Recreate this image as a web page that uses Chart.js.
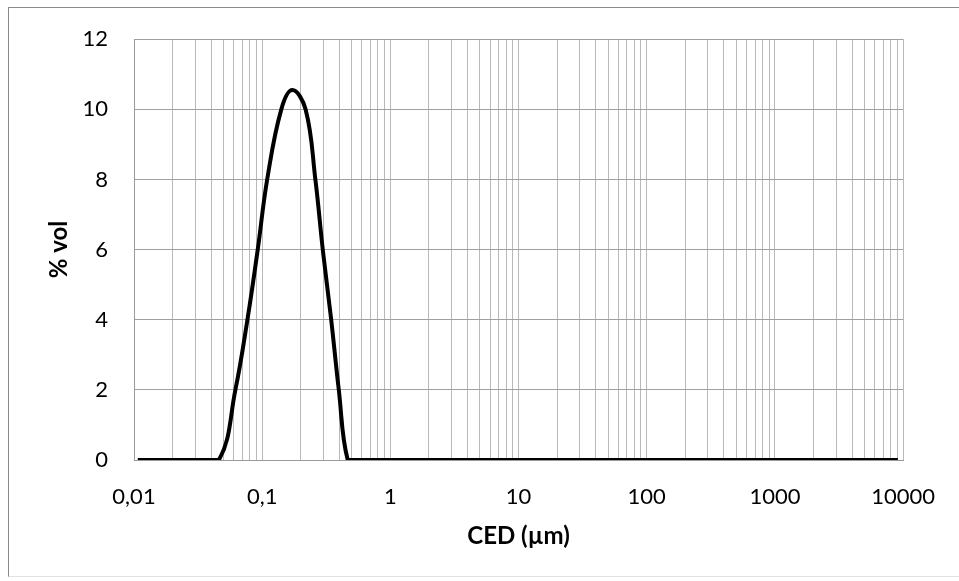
<!DOCTYPE html>
<html>
<head>
<meta charset="utf-8">
<script src="https://cdn.jsdelivr.net/npm/chart.js@4/dist/chart.umd.min.js"></script>
<style>
    html, body { margin: 0; padding: 0; background: #fff; }
    #frame {
        position: absolute;
        left: 8px; top: 7px;
        width: 960px; height: 568px;
        border-left: 1px solid #8a8a8a;
        border-top: 1px solid #8a8a8a;
        border-bottom: 1px solid #e2e2e2;
    }
    #chart { position: absolute; left: 0; top: 0; }
</style>
</head>
<body>
<div id="frame"></div>
<canvas id="chart" width="959" height="581"></canvas>
<script>
// Distribución granulométrica (CED en µm vs % en volumen)
const cedValues = [0.0107, 0.03, 0.0459, 0.0618, 0.0767, 0.0923, 0.1094, 0.141, 0.172,
    0.218, 0.26, 0.297, 0.3455, 0.396, 0.465, 0.55, 1, 10, 100, 1000, 9100];
const volValues = [0, 0, 0, 2.0, 4.0, 6.0, 8.0, 10.0, 10.55,
    10.0, 8.0, 6.0, 4.0, 2.0, 0, 0, 0, 0, 0, 0, 0];

// Etiquetas de las décadas del eje X (0,01 ... 10000)
const decadeExponents = [-2, -1, 0, 1, 2, 3, 4];
const xTickLabels = ['0,01', '0,1', '1', '10', '100', '1000', '10000'];
const yTicks = [0, 2, 4, 6, 8, 10, 12];

const FONT = 'Lato, "Open Sans", sans-serif';

// Marcas del eje logarítmico: 1..9 x 10^n en cada década
function buildLogTicks() {
    const ticks = [];
    for (let i = 0; i < decadeExponents.length - 1; i++) {
        const base = Math.pow(10, decadeExponents[i]);
        for (let m = 1; m <= 9; m++) {
            ticks.push({ value: +(m * base).toPrecision(6) });
        }
    }
    ticks.push({ value: Math.pow(10, decadeExponents[decadeExponents.length - 1]) });
    return ticks;
}

const ctx = document.getElementById('chart').getContext('2d');

new Chart(ctx, {
    type: 'line',
    data: {
        datasets: [{
            data: cedValues.map((x, i) => ({ x: x, y: volValues[i] })),
            borderColor: '#000',
            borderWidth: 4,
            pointRadius: 0,
            tension: 0.4,
            fill: false
        }]
    },
    options: {
        responsive: false,
        devicePixelRatio: 1,
        animation: false,
        layout: { padding: { left: 0, top: 37, right: 54, bottom: 0 } },
        scales: {
            x: {
                type: 'logarithmic',
                min: 0.01,
                max: 10000,
                afterBuildTicks: scale => { scale.ticks = buildLogTicks(); },
                afterFit: scale => { scale.height = 121; },
                ticks: {
                    autoSkip: false,
                    maxRotation: 0,
                    padding: 24,
                    color: '#000',
                    font: { family: FONT, size: 22 },
                    callback: function (value) {
                        const e = Math.round(Math.log10(value));
                        if (Math.abs(value - Math.pow(10, e)) > 1e-9 * Math.pow(10, e)) return '';
                        const idx = decadeExponents.indexOf(e);
                        return idx >= 0 ? xTickLabels[idx] : '';
                    }
                },
                grid: { color: '#b9b9b9', lineWidth: 1, drawTicks: false },
                border: { color: '#9a9a9a' },
                title: {
                    display: true,
                    text: 'CED (µm)',
                    color: '#000',
                    font: { family: FONT, size: 24, weight: 'bold' },
                    padding: { top: 0, bottom: 30 }
                }
            },
            y: {
                min: 0,
                max: 12,
                afterBuildTicks: scale => { scale.ticks = yTicks.map(v => ({ value: v })); },
                afterFit: scale => { scale.width = 134; },
                ticks: {
                    padding: 26,
                    color: '#000',
                    font: { family: FONT, size: 22 }
                },
                grid: { color: '#a0a0a0', lineWidth: 1, drawTicks: false },
                border: { color: '#9a9a9a' },
                title: {
                    display: true,
                    text: '% vol',
                    color: '#000',
                    font: { family: FONT, size: 24, weight: 'bold' },
                    padding: { top: 45, bottom: 0 }
                }
            }
        },
        plugins: {
            legend: { display: false },
            tooltip: { enabled: false }
        }
    }
});
</script>
</body>
</html>
